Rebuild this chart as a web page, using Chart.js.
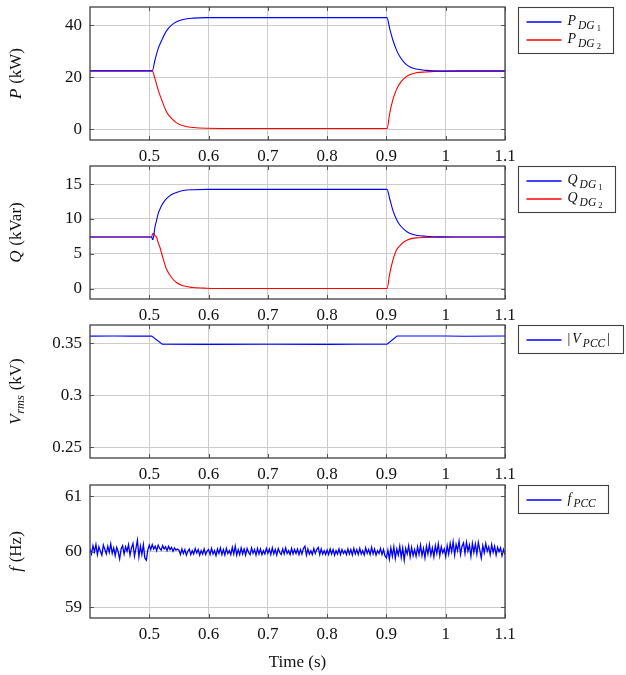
<!DOCTYPE html>
<html lang="en">
<head>
<meta charset="UTF-8">
<title>DG power sharing</title>
<script src="https://cdn.jsdelivr.net/npm/chart.js"></script>
<style>
  html, body { margin: 0; padding: 0; background: #fff; }
  #wrap { position: relative; width: 626px; height: 675px; overflow: hidden; }
  canvas { position: absolute; left: 0; }
</style>
</head>
<body>
<div id="wrap">
  <canvas id="cP" width="626" height="163" style="top:0px"></canvas>
  <canvas id="cQ" width="626" height="159" style="top:163px"></canvas>
  <canvas id="cV" width="626" height="159" style="top:322px"></canvas>
  <canvas id="cF" width="626" height="194" style="top:481px"></canvas>
</div>

<script>
// ---- data ----
const xTicks = [0.5, 0.6, 0.7, 0.8, 0.9, 1, 1.1];

// active power (kW)
const pTime = [0.4, 0.45, 0.505, 0.5095, 0.515, 0.521, 0.529, 0.5375, 0.546, 0.557, 0.574, 0.596, 0.65, 0.75, 0.85,
               0.901, 0.9055, 0.911, 0.9167, 0.922, 0.9305, 0.939, 0.95, 0.9667, 0.989, 1.02, 1.1];
const pDG1 = [22.4, 22.4, 22.4, 26.5, 31.0, 34.2, 37.8, 40.0, 41.3, 42.2, 42.7, 42.9, 42.9, 42.9, 42.9,
              42.9, 38.7, 34.2, 30.6, 28.1, 25.5, 24.0, 23.1, 22.6, 22.3, 22.3, 22.3];
const pDG2 = [22.4, 22.4, 22.4, 19.5, 15.0, 11.2, 6.7, 4.1, 2.4, 1.3, 0.6, 0.3, 0.2, 0.2, 0.2,
              0.2, 6.0, 11.4, 15.1, 17.4, 19.6, 20.9, 21.7, 22.0, 22.3, 22.4, 22.4];
const pTicks = [0, 20, 40];

// reactive power (kVar)
const qTime = [0.4, 0.45, 0.504, 0.5055, 0.507, 0.5095, 0.5123, 0.515, 0.5179, 0.521, 0.5235, 0.529, 0.5375, 0.546,
               0.557, 0.574, 0.596, 0.65, 0.75, 0.85, 0.901, 0.9055, 0.911, 0.9167, 0.922, 0.9305, 0.939, 0.95,
               0.9667, 0.989, 1.02, 1.1];
const qDG1 = [7.4, 7.4, 7.4, 7.0, 7.3, 8.8, 9.8, 10.75, 11.4, 11.95, 12.3, 12.9, 13.5, 13.8,
              14.07, 14.2, 14.25, 14.25, 14.25, 14.25, 14.25, 12.9, 11.2, 10.0, 9.2, 8.43, 7.95, 7.66,
              7.51, 7.42, 7.4, 7.4];
const qDG2 = [7.4, 7.4, 7.4, 7.85, 7.95, 7.6, 7.37, 6.6, 5.93, 5.0, 4.25, 2.8, 1.59, 0.87,
              0.39, 0.15, 0.05, 0.0, 0.0, 0.0, 0.0, 2.1, 4.1, 5.5, 6.1, 6.75, 7.1, 7.28,
              7.35, 7.38, 7.4, 7.4];
const qTicks = [0, 5, 10, 15];

// PCC rms voltage (kV)
const vTime = [0.4, 0.44, 0.47, 0.504, 0.522, 0.6, 0.7, 0.8, 0.85, 0.901, 0.918, 0.95, 1.0, 1.03, 1.1];
const vPCC = [0.3566, 0.3568, 0.3566, 0.3567, 0.3488, 0.3487, 0.3488, 0.3487, 0.3488, 0.3489, 0.3567, 0.3568, 0.3567, 0.3565, 0.3567];
const vTicks = [0.25, 0.3, 0.35];

// PCC frequency (Hz), sampled every 2.5 ms from 0.4 s
const fStart = 0.4;
const fStep = 0.0025;
const fPCC = [
  60.05, 59.96, 60.11, 60.00, 60.13, 59.95, 60.09, 60.01, 59.94, 60.12, 60.04, 59.96, 60.10, 59.99, 60.14, 59.97, 60.07, 59.93, 60.08, 60.00,
  59.87, 60.05, 60.11, 59.96, 60.09, 60.01, 60.13, 59.94, 60.07, 60.15, 59.92, 60.06, 60.21, 59.91, 60.10, 59.95, 60.13, 59.89, 59.85, 60.03,
  60.12, 60.04, 60.13, 60.05, 60.10, 60.02, 60.12, 60.06, 60.03, 60.11, 60.05, 60.09, 60.02, 60.10, 60.04, 60.08, 60.01, 60.07, 60.03, 60.05,
  60.03, 59.95, 60.05, 59.97, 60.04, 59.94, 60.01, 60.05, 59.95, 60.02, 59.96, 60.06, 59.98, 60.04, 59.94, 60.02, 59.96, 60.05, 59.95, 60.01,
  60.04, 59.95, 60.06, 59.96, 60.02, 59.93, 60.05, 59.97, 60.07, 59.95, 60.04, 59.94, 60.06, 59.97, 60.02, 59.95, 60.08, 59.96, 60.10, 59.94,
  60.04, 59.95, 60.07, 59.96, 60.05, 59.94, 60.06, 59.99, 59.95, 60.07, 59.97, 60.04, 59.94, 60.06, 59.96, 60.05, 59.95, 60.02, 59.96, 60.06,
  59.97, 60.05, 59.95, 60.07, 59.96, 60.04, 59.94, 60.06, 59.99, 59.95, 60.05, 59.96, 60.07, 59.97, 60.02, 59.95, 60.06, 59.96, 60.04, 59.97,
  60.05, 59.95, 60.04, 59.96, 60.06, 60.10, 59.94, 60.05, 59.96, 60.02, 59.95, 60.06, 59.97, 60.04, 60.08, 59.95, 60.05, 59.96, 60.02, 59.95,
  60.03, 59.95, 60.05, 59.96, 60.04, 59.94, 60.02, 59.96, 60.05, 59.95, 60.04, 59.97, 60.02, 59.95, 60.05, 59.96, 60.04, 59.94, 60.06, 59.96,
  60.04, 59.95, 60.06, 59.96, 60.02, 59.94, 60.07, 59.97, 60.04, 59.95, 60.08, 59.96, 60.05, 59.94, 60.02, 59.97, 60.06, 59.95, 60.04, 59.93,
  59.89, 60.03, 59.87, 60.07, 59.92, 60.09, 59.88, 60.05, 59.94, 60.10, 59.90, 60.07, 59.85, 60.06, 59.96, 60.11, 59.91, 60.08, 59.93, 60.04,
  59.92, 60.09, 59.95, 60.12, 59.93, 60.06, 59.89, 60.10, 59.96, 60.13, 59.94, 60.07, 59.91, 60.11, 59.97, 60.14, 59.93, 60.09, 59.98, 60.05,
  59.91, 60.11, 59.96, 60.15, 60.00, 60.18, 59.94, 60.13, 60.02, 60.19, 59.95, 60.10, 60.16, 59.97, 60.17, 60.01, 60.12, 59.92, 60.15, 59.99,
  60.14, 59.96, 60.17, 60.03, 59.89, 60.11, 59.98, 60.15, 60.01, 60.09, 59.95, 60.13, 59.99, 60.10, 59.94, 60.08, 60.00, 60.07, 59.93, 60.04, 59.95
];
const fTicks = [59, 60, 61];

// ---- drawing helpers ----
const FONT = "'Liberation Serif', 'Times New Roman', serif";
const BLUE = '#0000ff';
const RED = '#ff0000';
const TICK_SIZE = 17;

function pts(xs, ys) {
  return ys.map((y, i) => ({ x: xs[i], y: y }));
}

// pieces: [text, italic?, level]  level 0 = normal, 1 = subscript, 2 = sub-subscript
function mathWidth(ctx, pieces, sizes, gap) {
  let w = 0;
  pieces.forEach(p => {
    ctx.font = (p[1] ? 'italic ' : '') + sizes[p[2]] + 'px ' + FONT;
    w += ctx.measureText(p[0]).width + gap;
  });
  return w - gap;
}

function drawMath(ctx, x, y, pieces, sizes, drops, gap) {
  pieces.forEach(p => {
    ctx.font = (p[1] ? 'italic ' : '') + sizes[p[2]] + 'px ' + FONT;
    ctx.fillText(p[0], x, y + drops[p[2]]);
    x += ctx.measureText(p[0]).width + gap;
  });
}

function panelPlugin(cfg) {
  return {
    id: 'panelDeco',
    afterDraw(chart) {
      const ctx = chart.ctx;
      const a = chart.chartArea;
      const xs = chart.scales.x, ys = chart.scales.y;
      ctx.save();

      // inner tick marks on all four sides
      ctx.strokeStyle = '#555';
      ctx.lineWidth = 1;
      ctx.beginPath();
      xTicks.forEach(v => {
        const px = Math.round(xs.getPixelForValue(v)) + 0.5;
        ctx.moveTo(px, a.bottom); ctx.lineTo(px, a.bottom - 4);
        ctx.moveTo(px, a.top); ctx.lineTo(px, a.top + 4);
      });
      cfg.yTicks.forEach(v => {
        const py = Math.round(ys.getPixelForValue(v)) + 0.5;
        ctx.moveTo(a.left, py); ctx.lineTo(a.left + 4, py);
        ctx.moveTo(a.right, py); ctx.lineTo(a.right - 4, py);
      });
      ctx.stroke();

      // frame
      ctx.strokeStyle = '#404040';
      ctx.lineWidth = 1.3;
      ctx.strokeRect(a.left, a.top, a.right - a.left, a.bottom - a.top);

      // y axis title, rotated
      ctx.fillStyle = '#111';
      ctx.textBaseline = 'middle';
      ctx.textAlign = 'left';
      const tSizes = [17, 12.5, 9];
      const tDrops = [0, 4, 6];
      const tw = mathWidth(ctx, cfg.title, tSizes, 0.5);
      ctx.translate(17, (a.top + a.bottom) / 2);
      ctx.rotate(-Math.PI / 2);
      drawMath(ctx, -tw / 2, 0, cfg.title, tSizes, tDrops, 0.5);
      ctx.setTransform(1, 0, 0, 1, 0, 0);

      // legend box
      const lSizes = [14, 11.5, 8.5];
      const lDrops = [0, 3.5, 6];
      const lGap = 2;
      const bx = a.right + 13.5;
      const by = a.top + 0.5;
      let maxW = 0;
      cfg.legend.forEach(e => { maxW = Math.max(maxW, mathWidth(ctx, e.pieces, lSizes, lGap)); });
      const bw = Math.round(49 + maxW + 13);
      const bh = 28 + 18 * (cfg.legend.length - 1);
      ctx.fillStyle = '#fff';
      ctx.fillRect(bx, by, bw, bh);
      ctx.strokeStyle = '#404040';
      ctx.lineWidth = 1.1;
      ctx.strokeRect(bx, by, bw, bh);
      cfg.legend.forEach((e, i) => {
        const cy = Math.round(by + 14 + 18 * i);
        ctx.strokeStyle = e.color;
        ctx.lineWidth = 1.3;
        ctx.beginPath();
        ctx.moveTo(bx + 8, cy); ctx.lineTo(bx + 43, cy);
        ctx.stroke();
        ctx.fillStyle = '#111';
        ctx.textBaseline = 'alphabetic';
        drawMath(ctx, bx + 49, cy + 3, e.pieces, lSizes, lDrops, lGap);
      });

      // shared x axis title on the last panel
      if (cfg.xTitle) {
        ctx.font = TICK_SIZE + 'px ' + FONT;
        ctx.fillStyle = '#111';
        ctx.textAlign = 'center';
        ctx.textBaseline = 'middle';
        ctx.fillText(cfg.xTitle, (a.left + a.right) / 2, a.bottom + 45);
      }
      ctx.restore();
    }
  };
}

// each canvas: padTop + 133px plot + x axis strip
function makePanel(canvasId, cfg) {
  const axisH = cfg.xTitle ? 57 : 23;
  new Chart(document.getElementById(canvasId).getContext('2d'), {
    type: 'line',
    data: { datasets: cfg.datasets },
    options: {
      responsive: false,
      animation: false,
      events: [],
      layout: { padding: { top: cfg.padTop, right: 121, bottom: 0, left: 0 } },
      plugins: { legend: { display: false }, tooltip: { enabled: false } },
      elements: { point: { radius: 0 } },
      scales: {
        x: {
          type: 'linear', min: 0.4, max: 1.1,
          afterBuildTicks: s => { s.ticks = xTicks.map(v => ({ value: v })); },
          afterFit: s => { s.height = axisH; s.paddingLeft = 0; s.paddingRight = 0; },
          grid: { color: '#cccccc', lineWidth: 1, drawTicks: false },
          border: { display: false },
          ticks: { padding: 6, color: '#111', autoSkip: false, maxRotation: 0,
                   font: { family: FONT, size: TICK_SIZE }, callback: v => String(v) }
        },
        y: {
          type: 'linear', min: cfg.yMin, max: cfg.yMax,
          afterBuildTicks: s => { s.ticks = cfg.yTicks.map(v => ({ value: v })); },
          afterFit: s => { s.width = 90; s.paddingTop = 0; s.paddingBottom = 0; },
          grid: { color: '#cccccc', lineWidth: 1, drawTicks: false },
          border: { display: false },
          ticks: { padding: 8, color: '#111', font: { family: FONT, size: TICK_SIZE }, callback: v => String(v) }
        }
      }
    },
    plugins: [panelPlugin(cfg)]
  });
}

function line(data, color, smooth, width) {
  return {
    data: data, borderColor: color, borderWidth: width || 1.1, fill: false,
    pointRadius: 0, cubicInterpolationMode: smooth ? 'monotone' : 'default', tension: 0
  };
}

makePanel('cP', {
  padTop: 7,
  yMin: -4.2, yMax: 47, yTicks: pTicks,
  datasets: [line(pts(pTime, pDG1), BLUE, true), line(pts(pTime, pDG2), RED, true)],
  title: [['P', true, 0], [' (kW)', false, 0]],
  legend: [
    { color: BLUE, pieces: [['P', true, 0], ['DG', true, 1], ['1', false, 2]] },
    { color: RED, pieces: [['P', true, 0], ['DG', true, 1], ['2', false, 2]] }
  ]
});

makePanel('cQ', {
  padTop: 3,
  yMin: -1.5, yMax: 17.6, yTicks: qTicks,
  datasets: [line(pts(qTime, qDG1), BLUE, true), line(pts(qTime, qDG2), RED, true)],
  title: [['Q', true, 0], [' (kVar)', false, 0]],
  legend: [
    { color: BLUE, pieces: [['Q', true, 0], ['DG', true, 1], ['1', false, 2]] },
    { color: RED, pieces: [['Q', true, 0], ['DG', true, 1], ['2', false, 2]] }
  ]
});

makePanel('cV', {
  padTop: 3,
  yMin: 0.2398, yMax: 0.3673, yTicks: vTicks,
  datasets: [line(pts(vTime, vPCC), BLUE, false)],
  title: [['V', true, 0], ['rms', true, 1], [' (kV)', false, 0]],
  legend: [
    { color: BLUE, pieces: [['|', false, 0], ['V', true, 0], ['PCC', true, 1], ['|', false, 0]] }
  ]
});

makePanel('cF', {
  padTop: 4,
  yMin: 58.81, yMax: 61.2, yTicks: fTicks, xTitle: 'Time (s)',
  datasets: [line(fPCC.map((v, i) => ({ x: fStart + i * fStep, y: v })), BLUE, false, 1.3)],
  title: [['f', true, 0], [' (Hz)', false, 0]],
  legend: [
    { color: BLUE, pieces: [['f', true, 0], ['PCC', true, 1]] }
  ]
});
</script>
</body>
</html>
